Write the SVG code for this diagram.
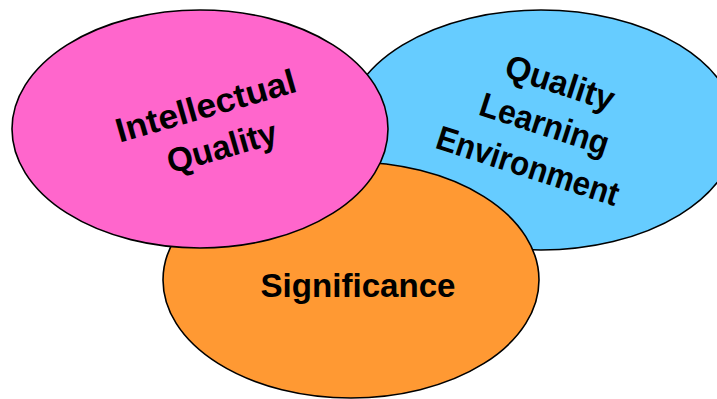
<svg xmlns="http://www.w3.org/2000/svg" width="717" height="399" viewBox="0 0 717 399">
  <style>
    .shape { stroke: #000000; stroke-width: 1.6; }
    .label { font-family: "Liberation Sans", "DejaVu Sans", sans-serif; font-weight: bold; font-size: 34px; fill: #000000; text-anchor: middle; }
  </style>
  <rect x="0" y="0" width="717" height="399" fill="#ffffff"/>
  <g id="connectors"></g>
  <g id="node-environment">
    <ellipse class="shape" cx="541" cy="130" rx="196" ry="120" fill="#66CCFF"/>
    <g transform="translate(541,135) rotate(18)">
      <text class="label" x="2" y="-44" textLength="113" lengthAdjust="spacingAndGlyphs">Quality</text>
      <text class="label" x="0" y="0" textLength="134" lengthAdjust="spacingAndGlyphs">Learning</text>
      <text class="label" x="-3" y="45" textLength="190" lengthAdjust="spacingAndGlyphs">Environment</text>
    </g>
  </g>
  <g id="node-significance">
    <ellipse class="shape" cx="351" cy="280" rx="188" ry="118" fill="#FF9933"/>
    <text class="label" x="358" y="297" textLength="195" lengthAdjust="spacingAndGlyphs">Significance</text>
  </g>
  <g id="node-intellectual">
    <ellipse class="shape" cx="200" cy="129" rx="188" ry="119" fill="#FF66CC"/>
    <g transform="translate(209,117) rotate(-16)">
      <text class="label" x="0" y="0" textLength="186" lengthAdjust="spacingAndGlyphs">Intellectual</text>
      <text class="label" x="4" y="44" textLength="113" lengthAdjust="spacingAndGlyphs">Quality</text>
    </g>
  </g>
</svg>
